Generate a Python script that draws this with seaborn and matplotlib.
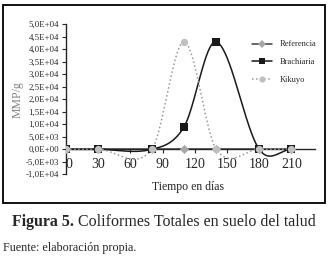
import numpy as np
import pandas as pd
import matplotlib
matplotlib.use('Agg')
import matplotlib.pyplot as plt
from matplotlib.lines import Line2D
from matplotlib.patches import Rectangle
import matplotlib.transforms as mtransforms
import seaborn as sns

# datos
dias = [0, 30, 80, 110, 140, 180, 210]
referencia = [0, 0, 0, 0, 0, 0, 0]
brachiaria = [0, 0, 0, 9000, 43000, 0, 0]
kikuyo = [0, 0, 0, 43000, 0, 0, 0]
ticks_x = [0, 30, 60, 90, 120, 150, 180, 210]
ticks_y = [-10000, -5000, 0, 5000, 10000, 15000, 20000, 25000,
           30000, 35000, 40000, 45000, 50000]

sns.set_style('ticks')
plt.rcParams['font.family'] = ['Liberation Serif', 'DejaVu Serif']


def suavizar(x, y, n=40):
    # linea suavizada (hermite con pendientes centrales, como Excel)
    x = np.asarray(x, float)
    y = np.asarray(y, float)
    m = np.zeros_like(y)
    m[1:-1] = (y[2:] - y[:-2]) / (x[2:] - x[:-2])
    m[0] = (y[1] - y[0]) / (x[1] - x[0])
    m[-1] = (y[-1] - y[-2]) / (x[-1] - x[-2])
    xs, ys = [], []
    t = np.linspace(0, 1, n)
    for i in range(len(x) - 1):
        h = x[i + 1] - x[i]
        h00 = 2 * t**3 - 3 * t**2 + 1
        h10 = t**3 - 2 * t**2 + t
        h01 = -2 * t**3 + 3 * t**2
        h11 = t**3 - t**2
        xs.extend(x[i] + h * t)
        ys.extend(h00 * y[i] + h10 * h * m[i] + h01 * y[i + 1] + h11 * h * m[i + 1])
    return pd.DataFrame({'x': xs, 'y': ys})


fig = plt.figure(figsize=(3.31, 2.57), dpi=100)
W, H = 331, 257
ax = fig.add_axes([66 / W, 1 - 174.3 / H, (315 - 66) / W, 150 / H])

series = [
    ('Referencia', referencia, '#404040', '-', 'D', '#a8a8a8', 22),
    ('Brachiaria', brachiaria, '#1a1a1a', '-', 's', '#1a1a1a', 26),
    ('Kikuyo', kikuyo, '#9a9a9a', ':', 'o', '#c0c0c0', 28),
]

handles = []
for i, (nombre, vals, col, ls, mk, mcol, s) in enumerate(series):
    curva = suavizar(dias, vals)
    sns.lineplot(data=curva, x='x', y='y', sort=False, estimator=None,
                 color=col, linestyle=ls, linewidth=1.1, ax=ax, zorder=2 + i)
    sns.scatterplot(x=dias, y=vals, marker=mk, color=mcol, s=s,
                    linewidth=0, ax=ax, zorder=5 + i)
    handles.append(Line2D([], [], color=col, linestyle=ls, linewidth=1.1,
                          marker=mk, markersize=4.5, markerfacecolor=mcol,
                          markeredgewidth=0, label=nombre))

ax.set_xlim(0, 232)
ax.set_ylim(-10000, 50000)
ax.set_xticks(ticks_x)
ax.set_xticklabels([str(v) for v in ticks_x], fontsize=6)
ax.set_yticks(ticks_y)
ax.set_yticklabels([f'{v:.1E}'.replace('.', ',') for v in ticks_y], fontsize=6.3)
ax.spines['top'].set_visible(False)
ax.spines['right'].set_visible(False)
ax.spines['bottom'].set_position(('data', 0))
ax.spines['left'].set_linewidth(1.0)
ax.spines['bottom'].set_linewidth(1.0)
ax.tick_params(axis='both', length=3, width=0.8, pad=2)
ax.tick_params(axis='x', pad=3)
# el "0" queda a la derecha del eje vertical
lbl0 = ax.get_xticklabels()[0]
lbl0.set_transform(lbl0.get_transform() +
                   mtransforms.ScaledTranslation(3 / 100, 0, fig.dpi_scale_trans))
ax.set_xlabel('')
ax.set_ylabel('')
ax.set_facecolor('white')

fig.text(18 / W, 1 - 100 / H, 'MMP/g', rotation=90, ha='center', va='center',
         fontsize=8.5, color='#808080')
fig.text(188 / W, 1 - 187 / H, 'Tiempo en días', ha='center', va='center',
         fontsize=8.5)

ax.legend(handles=handles, loc='upper left', bbox_to_anchor=(244 / W, 1 - 33 / H),
          bbox_transform=fig.transFigure, frameon=False, fontsize=6,
          handlelength=2.5, handletextpad=0.9, labelspacing=1.15)

# marco del grafico
fig.patches.append(Rectangle((3 / W, 1 - 203 / H), 322 / W, 198 / H,
                             transform=fig.transFigure, fill=False,
                             edgecolor='black', linewidth=1.3))

# pie de figura
t1 = fig.text(12 / W, 1 - 222 / H, 'Figura 5.', fontsize=11.4, fontweight='bold',
              va='center', ha='left')
fig.canvas.draw()
bb = t1.get_window_extent()
fig.text(bb.x1 / fig.bbox.width + 4 / W, 1 - 222 / H,
         'Coliformes Totales en suelo del talud', fontsize=11.5,
         va='center', ha='left')
fig.text(3 / W, 1 - 247.5 / H, 'Fuente: elaboración propia.', fontsize=8.7,
         va='center', ha='left')

fig.savefig('out.png', dpi=100)
